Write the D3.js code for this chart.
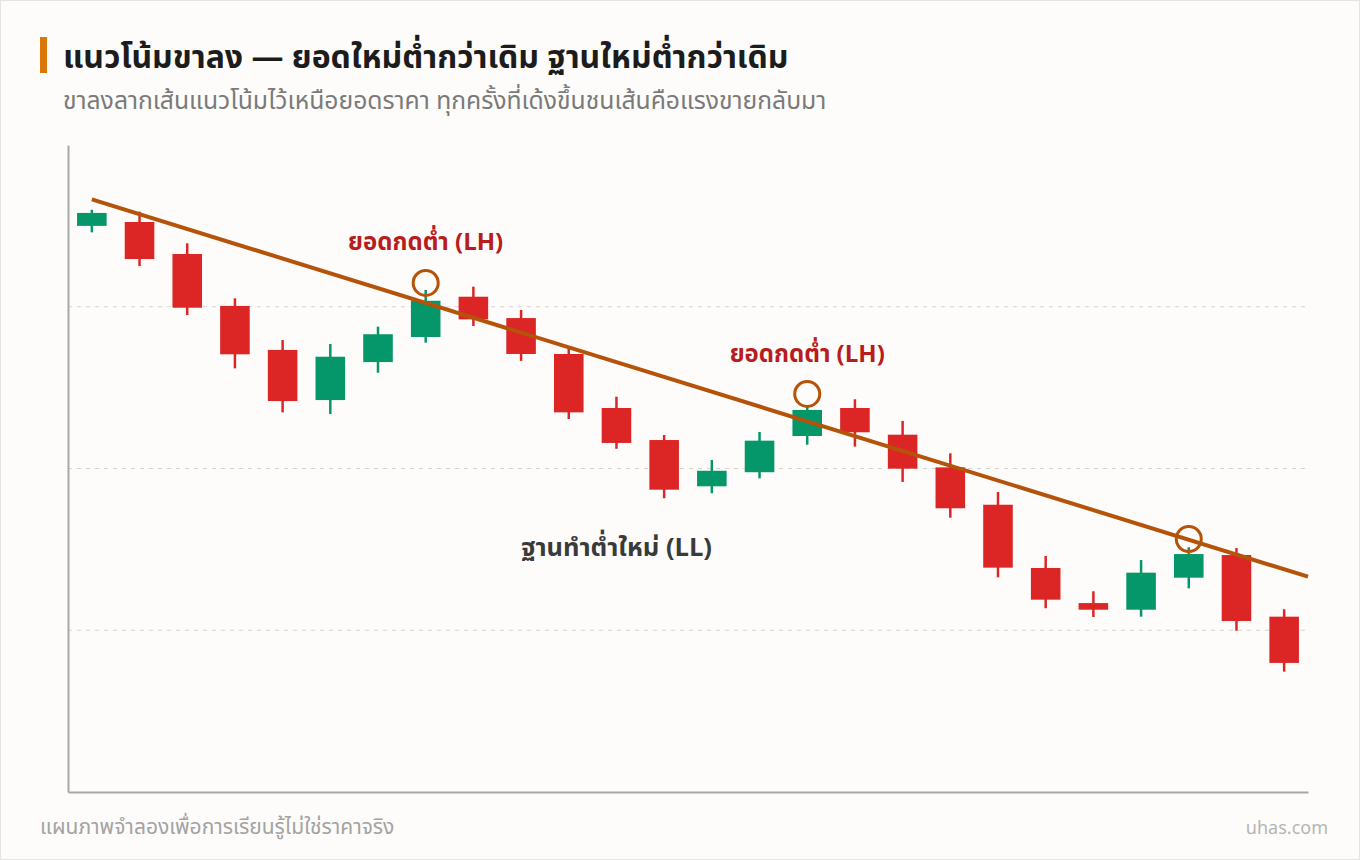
<!DOCTYPE html>
<html><head><meta charset="utf-8">
<script src="https://cdn.jsdelivr.net/npm/d3@7"></script>
<style>
html,body{margin:0;padding:0;background:#fdfcfa;}
svg{display:block;font-family:"Noto Sans Thai","Noto Sans","Sarabun",sans-serif;}
</style></head>
<body>
<svg id="c" width="1360" height="860"></svg>
<script>
const days = d3.range(26).map(i => "D" + (i + 1));
const opens  = [105.0,105.24,103.26,100.05,97.33,94.23,96.58,98.13,100.62,99.30,97.08,93.74,91.76,88.90,89.77,92.01,93.74,92.09,90.07,87.76,83.85,81.68,81.27,83.25,84.65,80.84];
const closes = [105.8,102.95,99.94,97.06,94.17,96.91,98.30,100.37,99.22,97.08,93.47,91.58,88.69,89.86,91.72,93.62,92.24,89.99,87.54,83.87,81.89,81.27,83.56,84.71,80.57,77.98];
const highs  = [106.0,105.88,103.92,100.52,97.94,97.70,98.77,101.04,101.24,99.80,97.45,94.44,92.07,90.53,92.26,93.86,94.28,92.94,90.94,88.55,84.59,82.41,84.34,85.13,85.08,81.30];
const lows   = [104.6,102.52,99.49,96.19,93.47,93.37,95.92,97.78,98.81,96.65,93.06,91.22,88.16,88.47,89.39,91.47,91.35,89.17,86.96,83.27,81.36,80.82,80.84,82.59,79.97,77.44];
const gridValues = [80, 90, 100];
const trendIdx = [0, 25.5];
const trendVal = [106.64, 83.31];
const lhIdx = [7, 15, 23];
const lhVal = [101.47, 94.61, 85.64];
const labels = [
  {text:"ยอดกดต่ำ (LH)", idx:7, val:103.5, kind:"lh"},
  {text:"ยอดกดต่ำ (LH)", idx:15, val:96.6, kind:"lh"},
  {text:"ฐานทำต่ำใหม่ (LL)", idx:11.0, val:84.6, kind:"ll"}
];
const title = "แนวโน้มขาลง — ยอดใหม่ต่ำกว่าเดิม ฐานใหม่ต่ำกว่าเดิม";
const subtitle = "ขาลงลากเส้นแนวโน้มไว้เหนือยอดราคา ทุกครั้งที่เด้งขึ้นชนเส้นคือแรงขายกลับมา";
const footL = "แผนภาพจำลองเพื่อการเรียนรู้ไม่ใช่ราคาจริง";
const footR = "uhas.com";

const RED = "#dc2626", GREEN = "#059669", TREND = "#b45309";
const svg = d3.select("#c");
const L = 68, R = 1308, T = 145, B = 792;

svg.append("rect").attr("x",0.5).attr("y",0.5).attr("width",1359).attr("height",859)
  .attr("fill","#fdfcfa").attr("stroke","#e6e4e0");

const x = d3.scaleBand().domain(days).range([L, R]).paddingInner(0.38).paddingOuter(0.19);
const y = d3.scaleLinear().domain([70, 110]).range([B, T]);
const cx = d3.scaleLinear().domain([0, 25]).range([x(days[0]) + x.bandwidth()/2, x(days[25]) + x.bandwidth()/2]);

// grid
svg.append("g").selectAll("line").data(gridValues).join("line")
  .attr("x1", L).attr("x2", R).attr("y1", d => y(d)).attr("y2", d => y(d))
  .attr("stroke", "#d6d3cf").attr("stroke-width", 1).attr("stroke-dasharray", "4,5");

// axes
const yAxis = d3.axisLeft(y).tickValues([]).tickSize(0);
svg.append("g").attr("transform", `translate(${L},0)`).call(yAxis)
  .call(g => g.select(".domain").attr("stroke", "#a8a8a8").attr("stroke-width", 2));
const xAxis = d3.axisBottom(x).tickValues([]).tickSize(0);
svg.append("g").attr("transform", `translate(0,${B})`).call(xAxis)
  .call(g => g.select(".domain").attr("stroke", "#a8a8a8").attr("stroke-width", 2));

// candles
const data = days.map((d, i) => ({d, o: opens[i], c: closes[i], h: highs[i], l: lows[i]}));
const cg = svg.append("g").selectAll("g").data(data).join("g");
cg.append("line")
  .attr("x1", d => x(d.d) + x.bandwidth()/2).attr("x2", d => x(d.d) + x.bandwidth()/2)
  .attr("y1", d => y(d.h)).attr("y2", d => y(d.l))
  .attr("stroke", d => d.c >= d.o ? GREEN : RED).attr("stroke-width", 2.5);
cg.append("rect")
  .attr("x", d => x(d.d)).attr("width", x.bandwidth())
  .attr("y", d => y(Math.max(d.o, d.c)))
  .attr("height", d => Math.max(3, Math.abs(y(d.o) - y(d.c))))
  .attr("fill", d => d.c >= d.o ? GREEN : RED);

// trend line
svg.append("line")
  .attr("x1", cx(trendIdx[0])).attr("y1", y(trendVal[0]))
  .attr("x2", cx(trendIdx[1])).attr("y2", y(trendVal[1]))
  .attr("stroke", TREND).attr("stroke-width", 4).attr("stroke-linecap", "butt");

// LH circles
svg.append("g").selectAll("circle").data(lhIdx).join("circle")
  .attr("cx", (d) => cx(d)).attr("cy", (d, i) => y(lhVal[i])).attr("r", 12.5)
  .attr("fill", "none").attr("stroke", TREND).attr("stroke-width", 3);

// labels
svg.append("g").selectAll("text").data(labels).join("text")
  .attr("x", d => cx(d.idx)).attr("y", d => y(d.val))
  .attr("text-anchor", "middle").attr("font-size", d => d.kind === "lh" ? 24 : 25.5).attr("font-weight", 700)
  .attr("fill", d => d.kind === "lh" ? "#b91c1c" : "#3a3a3a")
  .text(d => d.text);

// title
svg.append("rect").attr("x", 40).attr("y", 37).attr("width", 7).attr("height", 36).attr("fill", "#d97706");
svg.append("text").attr("x", 63).attr("y", 68).attr("font-size", 32).attr("font-weight", 700)
  .attr("fill", "#1c1c1c").text(title);
svg.append("text").attr("x", 63).attr("y", 109).attr("font-size", 24.7)
  .attr("fill", "#7a7a7a").text(subtitle);

// footer
svg.append("text").attr("x", 40).attr("y", 834).attr("font-size", 21)
  .attr("fill", "#a3a3a3").text(footL);
svg.append("text").attr("x", 1328).attr("y", 834).attr("font-size", 18).attr("text-anchor", "end")
  .attr("fill", "#b5b5b5").text(footR);
</script>
</body></html>
